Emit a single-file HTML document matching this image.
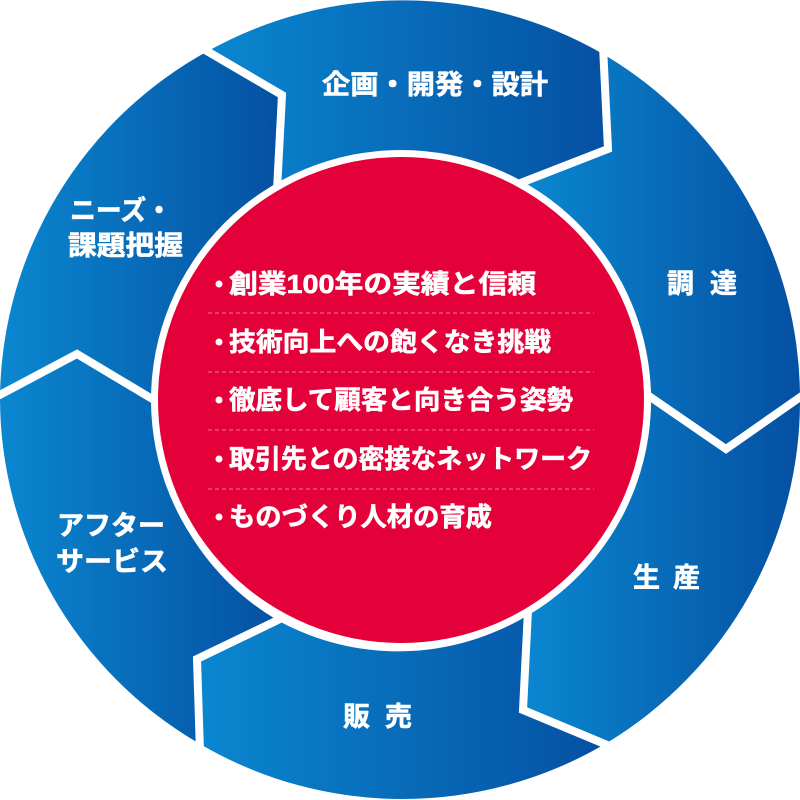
<!DOCTYPE html>
<html><head><meta charset="utf-8"><style>html,body{margin:0;padding:0;background:#fff}svg{display:block}</style></head>
<body>
<svg width="800" height="800" viewBox="0 0 800 800" xmlns="http://www.w3.org/2000/svg" font-family="'Liberation Sans','Noto Sans CJK JP',sans-serif" font-weight="bold">
<defs>
<linearGradient id="g" x1="0" y1="0" x2="1" y2="0">
<stop offset="0" stop-color="#0a87d0"/><stop offset="1" stop-color="#0550a2"/>
</linearGradient>
</defs>
<g fill="url(#g)">
<path d="M208,51 A400,400 0 0 1 603,54 L608,149 L523,182 A250,250 0 0 0 277,185 L282,95 Z"/>
<path d="M603,54 A400,400 0 0 1 800,397 L726,449 L651,397 A250,250 0 0 0 523,182 L608,149 Z"/>
<path d="M800,397 A400,400 0 0 1 605,744 L523,710 L528,615 A250,250 0 0 0 651,397 L726,449 Z"/>
<path d="M605,744 A400,400 0 0 1 200,744 L197,659 L277,620 A250,250 0 0 0 528,615 L523,710 Z"/>
<path d="M200,744 A400,400 0 0 1 0,395 L77,354 L154,400 A250,250 0 0 0 277,620 L197,659 Z"/>
<path d="M0,395 A400,400 0 0 1 208,51 L282,95 L277,185 A250,250 0 0 0 154,400 L77,354 Z"/>
</g>
<g fill="none" stroke="#fff" stroke-width="8" stroke-linejoin="miter">
<polyline points="200,47 282,95 277,190"/>
<polyline points="603,46 608,149 518,184"/>
<polyline points="646,394 726,449 806,393"/>
<polyline points="528,610 523,710 612,747"/>
<polyline points="282,618 197,659 200,752"/>
<polyline points="-6,398 77,354 159,403"/>
</g>
<circle cx="401" cy="400" r="250" fill="#fff"/>
<circle cx="401" cy="400" r="243" fill="#e40038"/>
<g stroke="#f07a94" stroke-width="1" stroke-dasharray="4,3">
<line x1="208" y1="313" x2="594" y2="313"/>
<line x1="208" y1="372" x2="594" y2="372"/>
<line x1="208" y1="430" x2="594" y2="430"/>
<line x1="208" y1="489" x2="594" y2="489"/>
</g>
<g fill="#fff">
<circle cx="219" cy="284" r="3.5"/><circle cx="219" cy="342" r="3.5"/><circle cx="219" cy="400" r="3.5"/><circle cx="219" cy="459" r="3.5"/><circle cx="219" cy="517" r="3.5"/>
</g>
<g fill="#fff" font-size="26" stroke="#fff" stroke-width="0.6">
<text x="229" y="293" textLength="307" lengthAdjust="spacingAndGlyphs">創業100年の実績と信頼</text>
<text x="229" y="351" textLength="322" lengthAdjust="spacingAndGlyphs">技術向上への飽くなき挑戦</text>
<text x="229" y="409" textLength="344" lengthAdjust="spacingAndGlyphs">徹底して顧客と向き合う姿勢</text>
<text x="229" y="468" textLength="363" lengthAdjust="spacingAndGlyphs">取引先との密接なネットワーク</text>
<text x="229" y="526" textLength="263" lengthAdjust="spacingAndGlyphs">ものづくり人材の育成</text>
</g>
<g fill="#fff" font-size="27" stroke="#fff" stroke-width="0.6">
<text x="322" y="94" textLength="226" lengthAdjust="spacingAndGlyphs">企画・開発・設計</text>
<text x="667" y="293" textLength="70" lengthAdjust="spacing">調達</text>
<text x="633" y="587" textLength="67" lengthAdjust="spacing">生産</text>
<text x="343" y="726" textLength="69" lengthAdjust="spacing">販売</text>
<text x="70" y="220" textLength="102" lengthAdjust="spacingAndGlyphs">ニーズ・</text>
<text x="68" y="255" textLength="115" lengthAdjust="spacingAndGlyphs">課題把握</text>
<text x="57" y="535" textLength="108" lengthAdjust="spacingAndGlyphs">アフター</text>
<text x="56" y="571" textLength="112" lengthAdjust="spacingAndGlyphs">サービス</text>
</g>
</svg>
</body></html>
